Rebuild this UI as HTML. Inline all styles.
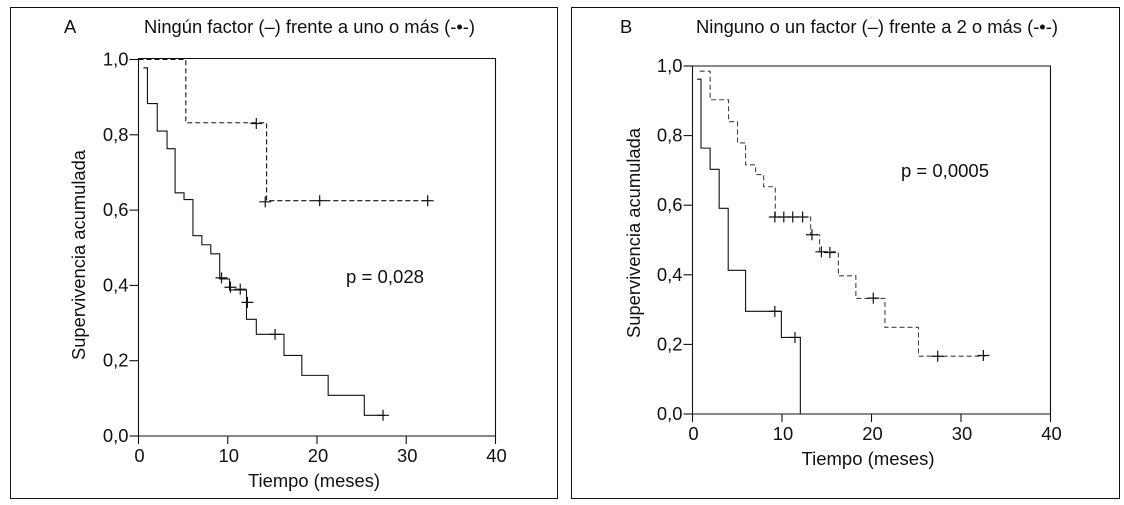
<!DOCTYPE html>
<html lang="es">
<head>
<meta charset="utf-8">
<title>Supervivencia acumulada</title>
<style>
html,body{margin:0;padding:0;background:#fff;width:1124px;height:505px;overflow:hidden}
svg{display:block}
text{font-family:"Liberation Sans",sans-serif;fill:#111;font-size:18.4px}
</style>
</head>
<body>
<svg id="chart" width="1124" height="505" viewBox="0 0 1124 505" xmlns="http://www.w3.org/2000/svg">
  <rect x="10.5" y="7.5" width="547" height="491" fill="none" stroke="#111" stroke-width="1"/>
  <rect x="571.5" y="7.5" width="548" height="491" fill="none" stroke="#111" stroke-width="1"/>
  <text x="64" y="33">A</text>
  <text x="144" y="33" textLength="331" lengthAdjust="spacingAndGlyphs">Ningún factor (–) frente a uno o más (-•-)</text>
  <text x="620" y="33">B</text>
  <text x="696" y="33" textLength="362" lengthAdjust="spacingAndGlyphs">Ninguno o un factor (–) frente a 2 o más (-•-)</text>
  <text x="346" y="283" textLength="78" lengthAdjust="spacingAndGlyphs">p = 0,028</text>
  <text x="901" y="177" textLength="88" lengthAdjust="spacingAndGlyphs">p = 0,0005</text>
  <text x="314" y="487" text-anchor="middle" textLength="132" lengthAdjust="spacingAndGlyphs">Tiempo (meses)</text>
  <text x="868" y="465" text-anchor="middle" textLength="133" lengthAdjust="spacingAndGlyphs">Tiempo (meses)</text>
  <text transform="translate(85,255) rotate(-90)" text-anchor="middle" textLength="210" lengthAdjust="spacingAndGlyphs">Supervivencia acumulada</text>
  <text transform="translate(640,233) rotate(-90)" text-anchor="middle" textLength="210" lengthAdjust="spacingAndGlyphs">Supervivencia acumulada</text>
</svg>
<script>
const xTicks = [0, 10, 20, 30, 40];
const yTicks = [0, 0.2, 0.4, 0.6, 0.8, 1];
const yTickLabels = ["0,0", "0,2", "0,4", "0,6", "0,8", "1,0"];

const aSolidTimes = [0.55, 1.0, 2.1, 3.2, 4.1, 5.1, 6.1, 7.1, 8.1, 9.1, 10.2, 12.1, 13.2, 16.3, 18.3, 21.25, 25.3, 27.6];
const aSolidSurv = [0.978, 0.883, 0.81, 0.763, 0.646, 0.628, 0.532, 0.508, 0.484, 0.417, 0.388, 0.31, 0.27, 0.214, 0.161, 0.108, 0.055, 0.055];
const aSolidCensorT = [9.3, 10.3, 11.4, 12.2, 15.3, 27.4];
const aSolidCensorS = [0.42, 0.395, 0.39, 0.355, 0.27, 0.055];

const aDashTimes = [0, 5.3, 14.35, 32.7];
const aDashSurv = [1, 0.832, 0.625, 0.625];
const aDashCensorT = [13.2, 14.2, 20.3, 32.4];
const aDashCensorS = [0.83, 0.622, 0.625, 0.625];

const bSolidTimes = [0.5, 0.95, 1.97, 2.98, 3.99, 5.93, 9.93, 12.05];
const bSolidSurv = [0.962, 0.764, 0.703, 0.591, 0.413, 0.295, 0.22, 0];
const bSolidCensorT = [9.2, 11.45];
const bSolidCensorS = [0.295, 0.22];

const bDashTimes = [0.8, 1.97, 4.03, 5.03, 5.93, 7.05, 7.95, 9.25, 13.2, 14.2, 16.3, 18.25, 21.5, 25.25, 32.7];
const bDashSurv = [0.985, 0.903, 0.84, 0.779, 0.716, 0.688, 0.653, 0.566, 0.515, 0.466, 0.397, 0.332, 0.249, 0.166, 0.166];
const bDashCensorT = [9.2, 10.2, 11.2, 12.3, 13.35, 14.4, 15.35, 20.2, 27.4, 32.5];
const bDashCensorS = [0.566, 0.566, 0.566, 0.566, 0.515, 0.466, 0.464, 0.333, 0.166, 0.168];

const svg = document.getElementById('chart');
const NS = 'http://www.w3.org/2000/svg';

function scaleX(panel, t) { return panel.x0 + (t / 40) * (panel.x1 - panel.x0); }
function scaleY(panel, s) { return panel.y0 + s * (panel.y1 - panel.y0); }

function drawPath(d, dash, width, name, color) {
  const el = document.createElementNS(NS, 'path');
  el.setAttribute('d', d);
  el.setAttribute('fill', 'none');
  el.setAttribute('stroke', color || '#111');
  el.setAttribute('stroke-width', width);
  if (dash) el.setAttribute('stroke-dasharray', dash);
  
  
  svg.appendChild(el);
}

function drawLabel(x, y, anchor, label, name) {
  const el = document.createElementNS(NS, 'text');
  el.setAttribute('x', x);
  el.setAttribute('y', y);
  el.setAttribute('text-anchor', anchor);
  el.textContent = label;
  
  
  svg.appendChild(el);
}

function drawAxes(panel) {
  const p = panel.id;
  const top = panel.y1 - panel.boxLift;
  drawPath('M' + panel.x0 + ' ' + top + 'H' + panel.x1 + 'V' + panel.y0 + 'H' + panel.x0 + 'Z', null, 1.1, 'panel-' + p + '-plot-box');
  xTicks.forEach(function (t) {
    const x = scaleX(panel, t);
    drawPath('M' + x + ' ' + panel.y0 + 'v8', null, 1.1, 'panel-' + p + '-x-tick');
    drawLabel(x + 1, panel.y0 + 26, 'middle', String(t), 'panel-' + p + '-x-tick-label');
  });
  yTicks.forEach(function (s, i) {
    const y = scaleY(panel, s);
    drawPath('M' + panel.x0 + ' ' + y + 'h-9', null, 1.1, 'panel-' + p + '-y-tick');
    drawLabel(panel.x0 - 10, y + 6, 'end', yTickLabels[i], 'panel-' + p + '-y-tick-label');
  });
}

function drawSeries(panel, times, surv, dash, name, color) {
  let d = 'M' + scaleX(panel, times[0]) + ' ' + scaleY(panel, surv[0]);
  for (let i = 1; i < times.length; i++) {
    d += 'H' + scaleX(panel, times[i]) + 'V' + scaleY(panel, surv[i]);
  }
  drawPath(d, dash, 1.1, 'panel-' + panel.id + '-' + name + '-curve', color);
}

function drawCensors(panel, times, surv, name) {
  times.forEach(function (t, i) {
    const x = scaleX(panel, t);
    const y = scaleY(panel, surv[i]);
    drawPath('M' + (x - 6) + ' ' + y + 'h12M' + x + ' ' + (y - 5.5) + 'v11', null, 1.2, 'panel-' + panel.id + '-' + name + '-censor-mark');
  });
}

const panelA = { id: 'a', x0: 138.5, x1: 495.5, y0: 436, y1: 59.5, boxLift: 1 };
const panelB = { id: 'b', x0: 692.5, x1: 1050.5, y0: 414, y1: 66, boxLift: 0 };

drawAxes(panelA);
drawSeries(panelA, aSolidTimes, aSolidSurv, null, 'solid');
drawSeries(panelA, aDashTimes, aDashSurv, '5 3', 'dashed');
drawCensors(panelA, aSolidCensorT, aSolidCensorS, 'solid');
drawCensors(panelA, aDashCensorT, aDashCensorS, 'dashed');

drawAxes(panelB);
drawSeries(panelB, bSolidTimes, bSolidSurv, null, 'solid');
drawSeries(panelB, bDashTimes, bDashSurv, '5 3', 'dashed', '#444');
drawCensors(panelB, bSolidCensorT, bSolidCensorS, 'solid');
drawCensors(panelB, bDashCensorT, bDashCensorS, 'dashed');
</script>
</body>
</html>
